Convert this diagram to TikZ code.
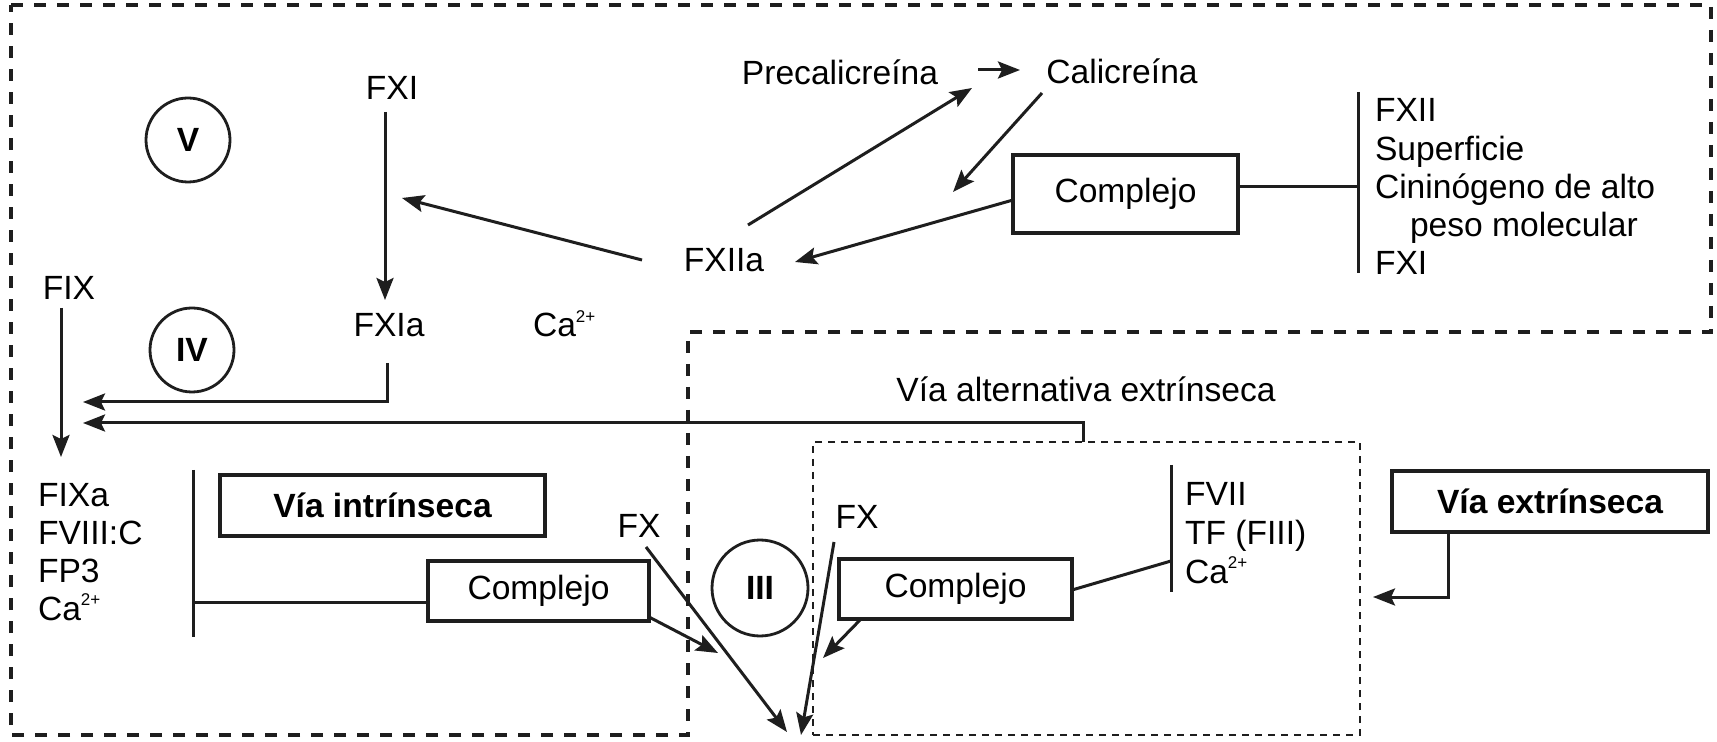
\documentclass[tikz,border=0pt]{standalone}
\usepackage{fontspec}
\setmainfont{Liberation Sans}
\usetikzlibrary{arrows.meta}
\definecolor{ink}{RGB}{30,30,30}
\newcommand\labelfont{\fontsize{16.8pt}{19pt}\selectfont}
% small raised charge, as in Ca2+
\newcommand\chargeup[1]{\raisebox{0.42em}{\fontsize{8.5pt}{8.5pt}\selectfont #1}}

\begin{document}
\begin{tikzpicture}[x=0.5pt,y=-0.5pt,
  every node/.style={font=\labelfont, text=black},
  lbl/.style={inner sep=0pt, outer sep=0pt, anchor=base},
  lst/.style={inner sep=0pt, outer sep=0pt, anchor=base west},
  box/.style={draw=ink, line width=1.8pt, inner sep=0pt, outer sep=0pt},
  stage/.style={circle, draw=ink, line width=1.4pt, inner sep=0pt, outer sep=0pt,
                font=\labelfont\bfseries},
  link/.style={draw=ink, line width=1.5pt},
  arr/.style={link, -{Stealth[length=11pt, width=8.5pt, inset=2pt]}},
  zone/.style={draw=ink, line width=1.7pt, dash pattern=on 6pt off 5.5pt},
  subzone/.style={draw=ink, line width=1.4pt, dash pattern=on 3.5pt off 3pt},
]
\fill[white] (0,0) rectangle (1717,742);
\useasboundingbox (0,0) rectangle (1717,742);

% outer L-shaped region: contact phase (top) and intrinsic part (bottom left)
\draw[zone] (11,5) -- (1711,5) -- (1711,332) -- (688,332) -- (688,735)
  -- (11,735) -- cycle;
% extrinsic region
\node[subzone, minimum width=273.5pt, minimum height=146.5pt,
      inner sep=0pt, outer sep=0pt] (ext) at (1086.5,588.5) {};

% ---------- contact phase ----------
\node[lbl] (prec) at (840,85) {Precalicreína};
\node[lbl] (cal) at (1122,84) {Calicreína};
\node[lbl] (fxiia) at (724,272) {FXIIa};
\node[box, minimum width=112.5pt, minimum height=39pt] (cplx1) at (1125.5,194) {Complejo};
\node[lst] (fxii) at (1375,122) {FXII};
\node[lst] (sup) at (1375,161) {Superficie};
\node[lst] (cin) at (1375,199) {Cininógeno de alto};
\node[lst] (peso) at (1410,237) {peso molecular};
\node[lst] (fxib) at (1375,275) {FXI};

\draw[arr] ([shift={(138,-15)}]prec.base) -- ([shift={(-102,-14)}]cal.base);
\draw[arr] ([shift={(24,-47)}]fxiia.base) -- ([shift={(-150,4)}]cal.base);
\draw[arr] ([shift={(-80,9)}]cal.base) -- ([shift={(-60,-2)}]cplx1.west);
\draw[arr] ([shift={(0,6)}]cplx1.west) -- ([shift={(71,-10)}]fxiia.base);
\draw[link] ([shift={(0,-7)}]cplx1.east) -- ([shift={(-17,65)}]fxii.base west);
\draw[link] ([shift={(-17,-30)}]fxii.base west) -- ([shift={(-17,-2)}]fxib.base west);

% ---------- intrinsic pathway ----------
\node[lbl] (fxi) at (392,100) {FXI};
\node[lbl] (fxia) at (389,337) {FXIa};
\node[lst] (ca1) at (533,337) {Ca\chargeup{2+}};
\node[stage, minimum size=42pt] (cV) at (188,140) {V};
\node[stage, minimum size=42pt] (cIV) at (192,350) {IV};
\node[lbl] (fix) at (69,300) {FIX};

\draw[arr] ([shift={(-82,-12)}]fxiia.base) -- ([shift={(10,98)}]fxi.base);
\draw[arr] ([shift={(-7,12)}]fxi.base) -- ([shift={(-4,-37)}]fxia.base);
\draw[arr] ([shift={(-2,26)}]fxia.base) |- ([shift={(14,102)}]fix.base);
\draw[arr] ([shift={(-3.5,0)}]ext.north) |- ([shift={(14,123)}]fix.base);
\node[lbl] (alt) at (1086,402) {Vía alternativa extrínseca};

\node[lst] (fixa) at (38,507) {FIXa};
\node[lst] (fviii) at (38,545) {FVIII:C};
\node[lst] (fp3) at (38,582) {FP3};
\node[lst] (ca2) at (38,620) {Ca\chargeup{2+}};
\draw[arr] ([shift={(-8,8)}]fix.base) -- ([shift={(23,-50)}]fixa.base west);

\node[box, minimum width=162.5pt, minimum height=30.5pt, font=\labelfont\bfseries]
  (vint) at (382.5,505.5) {Vía intrínseca};
\node[box, minimum width=110.5pt, minimum height=30pt] (cplx2) at (538.5,591) {Complejo};
\draw[link] ([shift={(155,-37)}]fixa.base west) -- ([shift={(155,17)}]ca2.base west);
\draw[link] ([shift={(155,-18)}]ca2.base west) -- ([shift={(0,11)}]cplx2.west);

% ---------- common pathway entry ----------
\node[stage, minimum size=48pt] (cIII) at (760,588) {III};
\node[lbl] (fxL) at (639,538) {FX};
\node[lbl] (fxR) at (857,528) {FX};
\draw[arr] ([shift={(7,9)}]fxL.base) -- ([shift={(27,144)}]cIII.center);
\draw[arr] ([shift={(0,-4)}]cplx2.south east) -- ([shift={(-42,65)}]cIII.center);
\draw[arr] ([shift={(-23,14)}]fxR.base) -- ([shift={(41,147)}]cIII.center);

% ---------- extrinsic pathway ----------
\node[box, minimum width=116.5pt, minimum height=30pt] (cplx3) at (955.5,589) {Complejo};
\node[lst] (fvii) at (1185,505) {FVII};
\node[lst] (tf) at (1185,544) {TF (FIII)};
\node[lst] (ca3) at (1185,583) {Ca\chargeup{2+}};
\draw[arr] ([shift={(21,1)}]cplx3.south west) -- ([shift={(63,70)}]cIII.center);
\draw[link] ([shift={(0,1)}]cplx3.east) -- ([shift={(-14,56)}]fvii.base west);
\draw[link] ([shift={(-14,-40)}]fvii.base west) -- ([shift={(-14,9)}]ca3.base west);

\node[box, minimum width=158pt, minimum height=30.5pt, font=\labelfont\bfseries]
  (vext) at (1550,501.5) {Vía extrínseca};
\draw[arr] ([shift={(56,0)}]vext.south west) |- ([shift={(13,8.5)}]ext.east);
\end{tikzpicture}
\end{document}
